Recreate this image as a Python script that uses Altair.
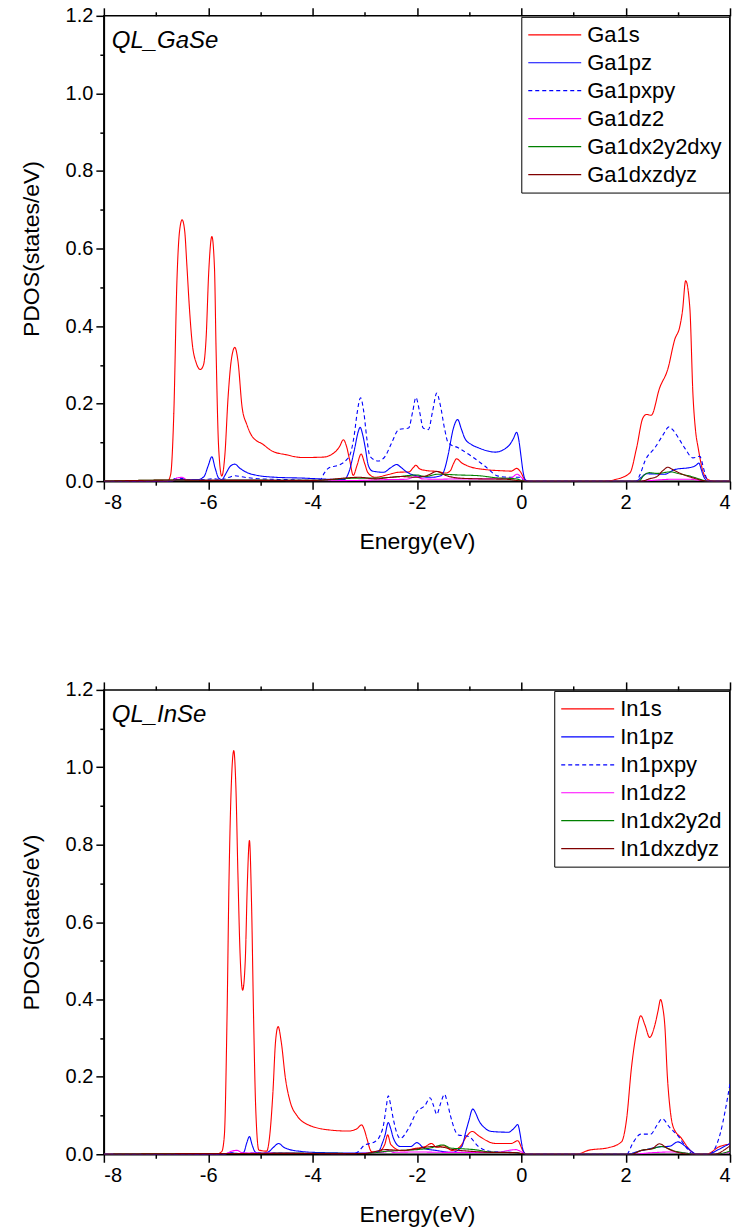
import altair as alt
import pandas as pd

FONT = "Liberation Sans"

GA_NAMES = ["Ga1s", "Ga1pz", "Ga1pxpy", "Ga1dz2", "Ga1dx2y2dxy", "Ga1dxzdyz"]
IN_NAMES = ["In1s", "In1pz", "In1pxpy", "In1dz2", "In1dx2y2d", "In1dxzdyz"]
COLORS = ["#FF0000", "#0000FF", "#0000FF", "#FF00FF", "#008000", "#800000"]
DASHES = [[1, 0], [1, 0], [4, 3], [1, 0], [1, 0], [1, 0]]

X_TICKS = [-8, -7, -6, -5, -4, -3, -2, -1, 0, 1, 2, 3, 4]
Y_TICKS = [0.0, 0.1, 0.2, 0.3, 0.4, 0.5, 0.6, 0.7, 0.8, 0.9, 1.0, 1.1, 1.2]

# ---------------- QL_GaSe ----------------
GA_S_E = [-8, -6.78, -6.72, -6.66, -6.60, -6.55, -6.50, -6.45, -6.41, -6.36, -6.31, -6.23, -6.15, -6.09,
          -6.04, -5.99, -5.93, -5.88, -5.85, -5.80, -5.74, -5.68, -5.62, -5.56, -5.49, -5.43, -5.35,
          -5.26, -5.16, -4.94, -4.78, -4.5, -4.2, -3.8, -3.6, -3.48, -3.41, -3.35, -3.29, -3.22, -3.15,
          -3.07, -3.00, -2.94, -2.80, -2.55, -2.35, -2.15, -2.07, -2.02, -1.95, -1.80, -1.60, -1.45,
          -1.36, -1.30, -1.24, -1.15, -1.0, -0.69, -0.4, -0.19, -0.09, -0.02, 0.07, 0.15, 1.6, 1.79,
          2.08, 2.21, 2.33, 2.40, 2.49, 2.65, 2.81, 2.94, 3.04, 3.09, 3.15, 3.23, 3.29, 3.34, 3.39,
          3.48, 3.58, 3.7, 4]
GA_S_V = [0, 0, 0.017, 0.172, 0.515, 0.644, 0.674, 0.644, 0.559, 0.446, 0.36, 0.305, 0.288, 0.30,
          0.37, 0.54, 0.631, 0.55, 0.343, 0.086, 0.013, 0.069, 0.215, 0.31, 0.345, 0.31, 0.19,
          0.146, 0.116, 0.094, 0.078, 0.068, 0.061, 0.062, 0.072, 0.09, 0.107, 0.09, 0.055, 0.015, 0.04,
          0.07, 0.045, 0.022, 0.01, 0.017, 0.023, 0.024, 0.035, 0.041, 0.032, 0.027, 0.025, 0.021,
          0.027, 0.045, 0.058, 0.048, 0.038, 0.030, 0.027, 0.026, 0.033, 0.025, 0.004, 0, 0, 0.004,
          0.021, 0.086, 0.163, 0.172, 0.17, 0.24, 0.29, 0.365, 0.40, 0.44, 0.517, 0.447, 0.223, 0.13, 0.086,
          0.026, 0.004, 0, 0]

GA_PZ_E = [-8, -6.7, -6.6, -6.5, -6.2, -6.08, -6.0, -5.93, -5.87, -5.80, -5.74, -5.66, -5.58, -5.49,
           -5.40, -5.25, -5.10, -4.7, -4.2, -3.7, -3.4, -3.30, -3.20, -3.12, -3.09, -3.04, -2.99, -2.93,
           -2.85, -2.64, -2.50, -2.39, -2.30, -2.2, -2.04, -1.72, -1.53, -1.45, -1.40, -1.30, -1.22,
           -1.15, -1.08, -0.95, -0.82, -0.5, -0.25, -0.15, -0.09, -0.04, -0.01, 0.04, 0.08, 0.15, 2.2,
           2.30, 2.40, 2.75, 2.94, 3.26, 3.36, 3.40, 3.45, 3.48, 3.55, 3.6, 4]
GA_PZ_V = [0, 0, 0.004, 0.004, 0.004, 0.012, 0.04, 0.063, 0.035, 0.008, 0.004, 0.02, 0.038, 0.044,
           0.034, 0.022, 0.016, 0.01, 0.008, 0.005, 0.004, 0.025, 0.08, 0.13, 0.139, 0.12, 0.086, 0.04,
           0.026, 0.023, 0.035, 0.043, 0.035, 0.024, 0.015, 0.01, 0.015, 0.04, 0.069, 0.137, 0.159,
           0.135, 0.11, 0.094, 0.086, 0.075, 0.09, 0.11, 0.126, 0.1, 0.069, 0.02, 0.003, 0, 0,
           0.01, 0.019, 0.018, 0.03, 0.036, 0.042, 0.047, 0.03, 0.017, 0.002, 0, 0]

GA_PXPY_E = [-8, -6.7, -6.65, -6.55, -6.4, -6.1, -5.9, -5.75, -5.6, -5.5, -5.3, -5.0, -4.5, -4.0,
             -3.85, -3.78, -3.69, -3.47, -3.35, -3.28, -3.20, -3.15, -3.08, -3.02, -2.96, -2.90, -2.74,
             -2.61, -2.48, -2.35, -2.16, -2.08, -2.02, -1.95, -1.88, -1.78, -1.70, -1.62, -1.55, -1.47,
             -1.40, -1.21, -0.95, -0.70, -0.44, -0.2, -0.05, 0.07, 0.15, 2.2, 2.27, 2.37, 2.56, 2.72,
             2.83, 2.92, 3.01, 3.13, 3.29, 3.42, 3.50, 3.55, 3.62, 4]
GA_PXPY_V = [0, 0, 0.006, 0.008, 0.004, 0.004, 0.006, 0.004, 0.01, 0.014, 0.01, 0.006, 0.004, 0.002,
             0.004, 0.02, 0.034, 0.043, 0.055, 0.069, 0.12, 0.172, 0.215, 0.18, 0.11, 0.064, 0.052,
             0.064, 0.1, 0.133, 0.137, 0.18, 0.216, 0.18, 0.137, 0.133, 0.18, 0.227, 0.195, 0.135,
             0.099, 0.086, 0.064, 0.039, 0.013, 0.01, 0.01, 0.001, 0, 0, 0.015, 0.052, 0.086, 0.12,
             0.14, 0.13, 0.112, 0.086, 0.06, 0.064, 0.03, 0.008, 0, 0]

GA_DZ2_E = [-8, -6.7, -6.6, -6.5, -6.4, -6.0, -5.5, -4.0, -3.1, -2.6, -2.2, -2.02, -1.9, -1.6, -1.2,
            -0.6, -0.2, -0.08, 0.0, 0.08, 2.3, 2.6, 2.9, 3.2, 3.5, 3.6, 4]
GA_DZ2_V = [0, 0, 0.008, 0.01, 0.003, 0.002, 0.003, 0.001, 0.002, 0.004, 0.005, 0.012, 0.006, 0.005,
            0.006, 0.006, 0.008, 0.018, 0.01, 0, 0, 0.003, 0.005, 0.005, 0.001, 0, 0]

GA_DX2_E = [-8, -6.6, -6.0, -5.5, -4.0, -3.1, -2.8, -2.4, -2.0, -1.85, -1.6, -1.2, -0.8, -0.5, -0.1,
            0.08, 2.25, 2.35, 2.45, 2.6, 2.86, 3.0, 3.26, 3.45, 3.55, 4]
GA_DX2_V = [0, 0.003, 0.002, 0.003, 0.002, 0.008, 0.008, 0.011, 0.016, 0.012, 0.018, 0.016, 0.014,
            0.009, 0.006, 0, 0, 0.015, 0.022, 0.02, 0.024, 0.02, 0.012, 0.004, 0, 0]

GA_DXZ_E = [-8, -6.6, -6.0, -4.0, -3.1, -2.8, -2.5, -2.3, -2.0, -1.8, -1.62, -1.45, -1.2, -0.8, -0.3,
            0.08, 2.3, 2.45, 2.6, 2.72, 2.81, 2.9, 3.05, 3.3, 3.5, 3.55, 4]
GA_DXZ_V = [0, 0.003, 0.002, 0.002, 0.01, 0.006, 0.01, 0.012, 0.01, 0.015, 0.025, 0.015, 0.008, 0.006,
            0.005, 0, 0, 0.006, 0.012, 0.028, 0.036, 0.03, 0.02, 0.008, 0.001, 0, 0]

# ---------------- QL_InSe ----------------
IN_S_E = [-8, -5.85, -5.74, -5.69, -5.64, -5.60, -5.55, -5.51, -5.47, -5.43, -5.39, -5.34, -5.29, -5.25,
          -5.21, -5.17, -5.13, -5.09, -5.03, -4.88, -4.82, -4.76, -4.71, -4.66, -4.60, -4.52, -4.43,
          -4.30, -4.14, -3.69, -3.31, -3.15, -3.06, -3.00, -2.96, -2.87, -2.75, -2.62, -2.56, -2.50,
          -2.29, -2.04, -1.84, -1.72, -1.62, -1.49, -1.33, -1.17, -1.05, -0.94, -0.82, -0.5, -0.19,
          -0.07, 0.04, 0.1, 1.06, 1.28, 1.67, 1.92, 2.02, 2.11, 2.21, 2.29, 2.37, 2.46, 2.56, 2.62,
          2.67, 2.71, 2.75, 2.80, 2.85, 2.91, 3.07, 3.26, 3.35, 3.55, 3.64, 3.77, 4]
IN_S_V = [0, 0, 0.007, 0.05, 0.35, 0.72, 0.98, 1.043, 0.95, 0.72, 0.52, 0.424, 0.50, 0.70,
          0.811, 0.65, 0.35, 0.12, 0.011, 0.008, 0.05, 0.16, 0.291, 0.33, 0.29, 0.196, 0.136,
          0.1, 0.08, 0.063, 0.06, 0.066, 0.076, 0.06, 0.041, 0.007, 0.006, 0.024, 0.05, 0.025,
          0.009, 0.015, 0.02, 0.028, 0.018, 0.022, 0.01, 0.02, 0.046, 0.059, 0.048, 0.028, 0.028,
          0.035, 0.007, 0, 0, 0.01, 0.017, 0.032, 0.093, 0.222, 0.317, 0.358, 0.334, 0.302, 0.334, 0.37,
          0.40, 0.38, 0.334, 0.2, 0.119, 0.071, 0.041, 0.007, 0, 0, 0.005, 0.018, 0.026]

IN_PZ_E = [-8, -5.7, -5.6, -5.4, -5.32, -5.26, -5.21, -5.16, -5.10, -5.0, -4.85, -4.75, -4.65, -4.55,
           -4.46, -4.2, -4.01, -3.05, -2.74, -2.66, -2.61, -2.55, -2.50, -2.45, -2.32, -2.12, -2.0,
           -1.86, -1.64, -1.33, -1.14, -1.06, -1.01, -0.93, -0.87, -0.82, -0.7, -0.57, -0.25, -0.12,
           -0.07, -0.02, 0.0, 0.05, 0.1, 2.0, 2.26, 2.65, 2.85, 3.0, 3.14, 3.3, 3.35, 3.6, 3.72, 4.0]
IN_PZ_V = [0, 0, 0.003, 0.002, 0.005, 0.03, 0.046, 0.025, 0.006, 0.002, 0.006, 0.018, 0.028, 0.018,
           0.013, 0.007, 0.005, 0.003, 0.007, 0.03, 0.05, 0.082, 0.065, 0.041, 0.02, 0.02, 0.03,
           0.015, 0.01, 0.005, 0.02, 0.06, 0.084, 0.117, 0.105, 0.089, 0.068, 0.059, 0.057, 0.07,
           0.077, 0.05, 0.033, 0.005, 0, 0, 0.008, 0.019, 0.021, 0.032, 0.021, 0.004, 0, 0, 0.008, 0.028]

IN_PXPY_E = [-8, -5.7, -5.55, -5.4, -5.2, -4.7, -4.3, -3.2, -3.12, -3.02, -2.80, -2.70, -2.64, -2.59,
             -2.55, -2.50, -2.45, -2.32, -2.16, -2.0, -1.84, -1.75, -1.68, -1.62, -1.55, -1.47, -1.42,
             -1.36, -1.21, -1.01, -0.82, -0.57, -0.2, 0.05, 0.1, 2.02, 2.13, 2.29, 2.48, 2.60, 2.70,
             2.84, 3.0, 3.16, 3.3, 3.6, 3.68, 3.81, 3.91, 4.0]
IN_PXPY_V = [0, 0, 0.004, 0.002, 0.003, 0.004, 0.002, 0.002, 0.007, 0.022, 0.033, 0.05, 0.076, 0.12,
             0.151, 0.125, 0.089, 0.041, 0.067, 0.11, 0.127, 0.146, 0.125, 0.103, 0.13, 0.155, 0.135,
             0.101, 0.05, 0.046, 0.02, 0.007, 0.005, 0.001, 0, 0, 0.027, 0.052, 0.052, 0.075, 0.092,
             0.07, 0.048, 0.018, 0, 0, 0.008, 0.052, 0.114, 0.183]

IN_DZ2_E = [-8, -5.7, -5.55, -5.45, -5.35, -5.2, -4.65, -3.5, -2.6, -2.55, -2.45, -2.0, -1.5, -1.0,
            -0.5, -0.1, -0.05, 0.1, 2.1, 2.5, 2.9, 3.2, 3.3, 3.7, 4.0]
IN_DZ2_V = [0, 0, 0.008, 0.01, 0.004, 0.003, 0.004, 0.001, 0.006, 0.01, 0.005, 0.006, 0.005, 0.005,
            0.005, 0.012, 0.01, 0, 0, 0.004, 0.006, 0.002, 0, 0, 0.006]

IN_DX2_E = [-8, -5.6, -5.2, -4.6, -3.0, -2.55, -2.3, -2.0, -1.75, -1.5, -1.35, -1.1, -0.9, -0.6, -0.1,
            0.1, 2.1, 2.3, 2.5, 2.7, 2.9, 3.2, 3.3, 3.7, 4.0]
IN_DX2_V = [0, 0.002, 0.002, 0.003, 0.002, 0.008, 0.01, 0.012, 0.016, 0.024, 0.016, 0.014, 0.012,
            0.006, 0.004, 0, 0, 0.01, 0.014, 0.02, 0.01, 0.002, 0, 0, 0.008]

IN_DXZ_E = [-8, -5.6, -5.2, -4.6, -3.0, -2.6, -2.3, -2.0, -1.7, -1.5, -1.3, -1.0, -0.6, -0.1, 0.1, 2.1,
            2.3, 2.5, 2.65, 2.8, 3.0, 3.2, 3.7, 3.9, 4.0]
IN_DXZ_V = [0, 0.002, 0.002, 0.002, 0.002, 0.012, 0.01, 0.014, 0.02, 0.018, 0.012, 0.008, 0.005, 0.004,
            0, 0, 0.01, 0.014, 0.027, 0.015, 0.005, 0, 0, 0.012, 0.022]


def build(names, series):
    rows = []
    for name, (es, vs) in zip(names, series):
        for e, v in zip(es, vs):
            rows.append({"E": e, "pdos": v, "orb": name})
    return pd.DataFrame(rows)


ga_df = build(GA_NAMES, [(GA_S_E, GA_S_V), (GA_PZ_E, GA_PZ_V), (GA_PXPY_E, GA_PXPY_V),
                         (GA_DZ2_E, GA_DZ2_V), (GA_DX2_E, GA_DX2_V), (GA_DXZ_E, GA_DXZ_V)])
in_df = build(IN_NAMES, [(IN_S_E, IN_S_V), (IN_PZ_E, IN_PZ_V), (IN_PXPY_E, IN_PXPY_V),
                         (IN_DZ2_E, IN_DZ2_V), (IN_DX2_E, IN_DX2_V), (IN_DXZ_E, IN_DXZ_V)])

X_TICK_SIZE = {"condition": {"test": "datum.value % 2 == 0", "value": 8}, "value": 4}
Y_TICK_SIZE = {"condition": {"test": "round(datum.value * 10) % 2 == 0", "value": 8}, "value": 4}


def panel(df, names, label, height):
    xscale = alt.Scale(domain=[-8, 4], nice=False, zero=False)
    yscale = alt.Scale(domain=[0, 1.2], nice=False, zero=False)
    legend = alt.Legend(title=None)
    lines = alt.Chart(df).mark_line(strokeWidth=1.1, interpolate="monotone", clip=True).encode(
        x=alt.X("E:Q", scale=xscale,
                axis=alt.Axis(orient="bottom", values=X_TICKS, title="Energy(eV)",
                              labelExpr="datum.value % 2 == 0 ? '' + datum.value : ''",
                              tickSize=X_TICK_SIZE, titlePadding=18)),
        y=alt.Y("pdos:Q", scale=yscale,
                axis=alt.Axis(orient="left", values=Y_TICKS, title="PDOS(states/eV)",
                              labelExpr="round(datum.value * 10) % 2 == 0 ? format(datum.value, '.1f') : ''",
                              tickSize=Y_TICK_SIZE, titlePadding=22)),
        color=alt.Color("orb:N", scale=alt.Scale(domain=names, range=COLORS), sort=names, legend=legend),
        strokeDash=alt.StrokeDash("orb:N", scale=alt.Scale(domain=names, range=DASHES), sort=names,
                                  legend=legend),
    )
    frame = alt.Chart(pd.DataFrame({"E": [-8, 4], "pdos": [0, 1.2]})).mark_point(opacity=0).encode(
        x=alt.X("E:Q", scale=xscale,
                axis=alt.Axis(orient="top", values=X_TICKS, labels=False, title=None,
                              tickSize=X_TICK_SIZE, domain=False)),
        y=alt.Y("pdos:Q", scale=yscale, axis=None),
    )
    text = alt.Chart(pd.DataFrame({"t": [label]})).mark_text(
        align="left", baseline="alphabetic", font=FONT, fontSize=24, fontStyle="italic", color="black"
    ).encode(x=alt.value(8), y=alt.value(32), text="t:N")
    return alt.layer(lines, frame, text).resolve_axis(x="independent", y="independent").properties(
        width=627, height=height)


top = panel(ga_df, GA_NAMES, "QL_GaSe", 466)
bottom = panel(in_df, IN_NAMES, "QL_InSe", 465)

chart = alt.vconcat(top, bottom, spacing=125).resolve_scale(
    color="independent", strokeDash="independent"
).resolve_legend(
    color="independent", strokeDash="independent"
).properties(
    padding={"left": 19, "top": 4, "right": 0, "bottom": 0}
).configure_view(stroke="black", strokeWidth=1.5).configure_axis(
    labelFont=FONT, labelFontSize=20, labelColor="black", labelPadding=3,
    titleFont=FONT, titleFontSize=23, titleFontWeight="normal", titleColor="black",
    domainColor="black", domainWidth=1.5, tickColor="black", tickWidth=1.5, grid=False,
).configure_legend(
    orient="top-right", offset=1, fillColor="white", strokeColor="black", strokeWidth=1,
    padding=7, labelFont=FONT, labelFontSize=22, labelColor="black",
    symbolType="M-4.4,0L16.8,0", symbolSize=25, symbolStrokeWidth=1.2, labelOffset=37,
    rowPadding=6, labelLimit=300,
)

chart.save("out.html", embed_options={"renderer": "svg", "actions": False})
